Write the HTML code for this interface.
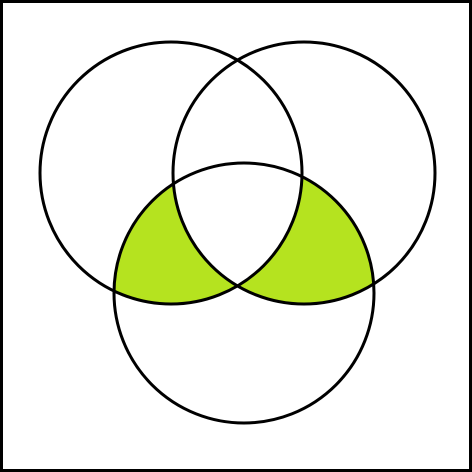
<!DOCTYPE html>
<html>
<head>
<meta charset="utf-8">
<style>
  html,body{margin:0;padding:0;background:#fff;}
  svg{display:block;}
</style>
</head>
<body>
<svg id="venn" width="472" height="472" viewBox="0 0 472 472" xmlns="http://www.w3.org/2000/svg">
  <rect x="1.5" y="1.5" width="469" height="469" fill="#fff" stroke="#000" stroke-width="3"/>
  <defs>
    <clipPath id="clipA"><circle cx="171" cy="173" r="131"/></clipPath>
    <clipPath id="clipB"><circle cx="304" cy="173" r="131"/></clipPath>
    <clipPath id="clipC"><circle cx="244" cy="293" r="130"/></clipPath>
  </defs>
  <g clip-path="url(#clipA)">
    <circle cx="244" cy="293" r="130" fill="#b5e31f"/>
  </g>
  <g clip-path="url(#clipB)">
    <circle cx="244" cy="293" r="130" fill="#b5e31f"/>
  </g>
  <g clip-path="url(#clipA)">
    <g clip-path="url(#clipB)">
      <circle cx="244" cy="293" r="130" fill="#fff"/>
    </g>
  </g>
  <circle cx="171" cy="173" r="131" fill="none" stroke="#000" stroke-width="3"/>
  <circle cx="304" cy="173" r="131" fill="none" stroke="#000" stroke-width="3"/>
  <circle cx="244" cy="293" r="130" fill="none" stroke="#000" stroke-width="3"/>
</svg>
</body>
</html>
